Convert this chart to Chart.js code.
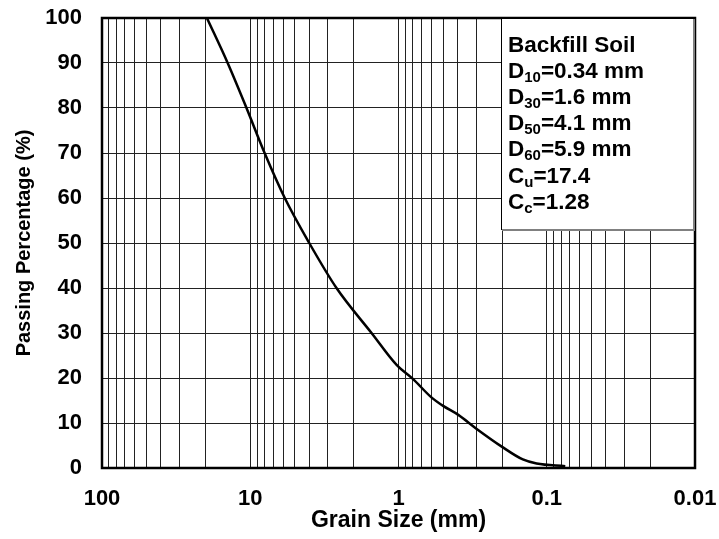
<!DOCTYPE html>
<html>
<head>
<meta charset="utf-8">
<script src="https://cdn.jsdelivr.net/npm/chart.js@4/dist/chart.umd.min.js"></script>
<style>
html,body{margin:0;padding:0;background:#fff;}
canvas{display:block;}
</style>
</head>
<body>
<canvas id="c" width="719" height="539"></canvas>
<script>
// Grain size distribution
const grainSize = [19.6, 14.2, 10.6, 8.0, 5.85, 4.0, 2.62, 1.52, 1.03, 0.80, 0.60, 0.50, 0.395, 0.30, 0.20, 0.145, 0.117, 0.075];
const passing   = [100, 90, 80, 70, 60, 50, 40, 30, 22.9, 19.8, 15.7, 13.8, 11.8, 8.8, 4.7, 1.9, 1.0, 0.4];

// Axis ticks
const xDecades = [0.01, 0.1, 1, 10];
const xMultipliers = [1, 2, 3, 4, 5, 6, 7, 8, 9];
const xTickValues = [0.01, 0.1, 1, 10, 100];
const xTickLabels = ['0.01', '0.1', '1', '10', '100'];
const yTickValues = [0, 10, 20, 30, 40, 50, 60, 70, 80, 90, 100];

// Info box text
const boxTitle = 'Backfill Soil';
const boxMain = ['D', 'D', 'D', 'D', 'C', 'C'];
const boxSub  = ['10', '30', '50', '60', 'u', 'c'];
const boxRest = ['=0.34 mm', '=1.6 mm', '=4.1 mm', '=5.9 mm', '=17.4', '=1.28'];

const FONT = '"Liberation Sans", Arial, Helvetica, sans-serif';

const xGrid = [];
xDecades.forEach(d => xMultipliers.forEach(m => xGrid.push(parseFloat((d * m).toPrecision(6)))));
xGrid.push(100);

const zeroPad = s => { s.paddingTop = 0; s.paddingBottom = 0; s.paddingLeft = 0; s.paddingRight = 0; };

const frameAndBox = {
  id: 'frameAndBox',
  afterDatasetsDraw(chart) {
    const {ctx, chartArea: a} = chart;
    ctx.save();
    // plot frame
    ctx.strokeStyle = '#000';
    ctx.lineWidth = 2.5;
    ctx.strokeRect(a.left, a.top, a.right - a.left, a.bottom - a.top);
    // info box
    const bx = a.right - 194, by = a.top, bw = 192, bh = 211;
    ctx.fillStyle = '#fff';
    ctx.fillRect(bx, by, bw, bh);
    ctx.lineWidth = 1;
    ctx.strokeStyle = '#000';
    ctx.strokeRect(bx + 0.5, by + 0.5, bw, bh);
    ctx.strokeStyle = '#808080';
    ctx.lineWidth = 2;
    ctx.beginPath();
    ctx.moveTo(bx + 1, by + bh + 1);
    ctx.lineTo(bx + bw + 1, by + bh + 1);
    ctx.lineTo(bx + bw + 1, by + 1);
    ctx.stroke();
    // text
    ctx.fillStyle = '#000';
    ctx.textBaseline = 'alphabetic';
    ctx.textAlign = 'left';
    const tx = bx + 7;
    let y = by + 34;
    ctx.font = 'bold 22.5px ' + FONT;
    ctx.fillText(boxTitle, tx, y);
    for (let i = 0; i < boxMain.length; i++) {
      y += 26.1;
      let x = tx;
      ctx.font = 'bold 22.5px ' + FONT;
      ctx.fillText(boxMain[i], x, y);
      x += ctx.measureText(boxMain[i]).width;
      ctx.font = 'bold 15px ' + FONT;
      ctx.fillText(boxSub[i], x, y + 4);
      x += ctx.measureText(boxSub[i]).width;
      ctx.font = 'bold 22.5px ' + FONT;
      ctx.fillText(boxRest[i], x, y);
    }
    ctx.restore();
  }
};

new Chart(document.getElementById('c'), {
  type: 'line',
  data: {
    datasets: [{
      data: grainSize.map((s, i) => ({x: s, y: passing[i]})),
      borderColor: '#000',
      borderWidth: 2.5,
      pointRadius: 0,
      fill: false,
      cubicInterpolationMode: 'monotone'
    }]
  },
  options: {
    responsive: false,
    animation: false,
    devicePixelRatio: 1,
    layout: {padding: {left: 0, top: 18, right: 24, bottom: 0}},
    plugins: {legend: {display: false}, tooltip: {enabled: false}},
    scales: {
      x: {
        type: 'logarithmic',
        reverse: true,
        min: 0.01,
        max: 100,
        afterBuildTicks: s => { s.ticks = xGrid.map(v => ({value: v})); },
        afterFit: s => { s.height = 71; zeroPad(s); },
        grid: {color: '#222', lineWidth: 1, drawTicks: false},
        border: {display: false},
        ticks: {
          autoSkip: false,
          maxRotation: 0,
          padding: 18,
          color: '#000',
          font: {family: FONT, size: 22, weight: 'bold'},
          callback: (v) => {
            const k = xTickValues.findIndex(t => Math.abs(t - v) / t < 1e-6);
            return k >= 0 ? xTickLabels[k] : '';
          }
        },
        title: {
          display: true,
          text: 'Grain Size (mm)',
          color: '#000',
          font: {family: FONT, size: 23, weight: 'bold'},
          padding: {top: 0, bottom: 5}
        }
      },
      y: {
        min: 0,
        max: 100,
        afterBuildTicks: s => { s.ticks = yTickValues.map(v => ({value: v})); },
        afterFit: s => { s.width = 102; zeroPad(s); },
        grid: {color: '#222', lineWidth: 1, drawTicks: false},
        border: {display: false},
        ticks: {
          padding: 20,
          color: '#000',
          font: {family: FONT, size: 22, weight: 'bold'}
        },
        title: {
          display: true,
          text: 'Passing Percentage (%)',
          color: '#000',
          font: {family: FONT, size: 20, weight: 'bold'},
          padding: {top: 12, bottom: 0}
        }
      }
    }
  },
  plugins: [frameAndBox]
});
</script>
</body>
</html>
